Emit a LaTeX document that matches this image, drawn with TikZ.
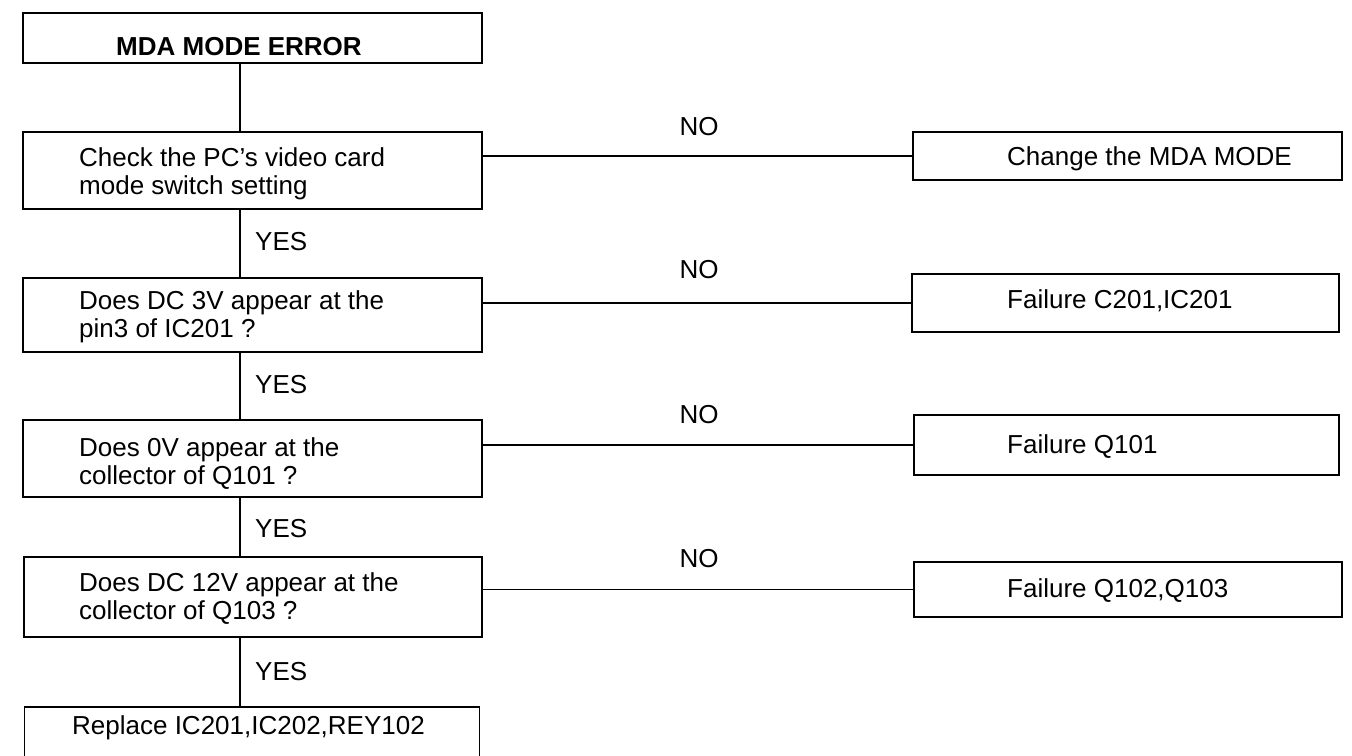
\documentclass[tikz,border=0pt]{standalone}
\usepackage{fontspec}
\setmainfont{Liberation Sans}
\begin{document}
\begin{tikzpicture}[x=1pt,y=-1pt,
  box/.style={draw, line width=1.2pt, rectangle, inner sep=0pt},
  txt/.style={inner sep=0pt, align=left, font=\fontsize{26}{28}\selectfont},
  lbl/.style={inner sep=0pt, anchor=base west, font=\fontsize{26}{28}\selectfont},
  con/.style={line width=1.2pt}]
\clip (0,0) rectangle (1352,755);
\fill[white] (0,0) rectangle (1352,755);
% left column boxes
\node[box, minimum width=459pt, minimum height=50pt] (t)  at (252.5,38)  {};
\node[box, minimum width=459pt, minimum height=77pt] (b1) at (252.5,170.5) {};
\node[box, minimum width=459pt, minimum height=74pt] (b2) at (252.5,315) {};
\node[box, minimum width=459pt, minimum height=77pt] (b3) at (252.5,458.5) {};
\node[box, minimum width=458pt, minimum height=80pt] (b4) at (253,597) {};
\node[box, minimum width=455pt, minimum height=83pt] (b5) at (252,748.5) {};
% right column boxes
\node[box, minimum width=429pt, minimum height=48pt] (r1) at (1127.5,156) {};
\node[box, minimum width=427pt, minimum height=58pt] (r2) at (1125.5,303) {};
\node[box, minimum width=425pt, minimum height=60pt] (r3) at (1126.5,445) {};
\node[box, minimum width=428pt, minimum height=55pt] (r4) at (1128,589.5) {};
% texts
\node[inner sep=0pt, anchor=base, font=\fontsize{26}{28}\selectfont\bfseries] (tt) at (239,55) {MDA MODE ERROR};
\node[txt, anchor=north west] (b1t) at (79,147) {Check the PC’s video card\\mode switch setting};
\node[txt, anchor=north west] (b2t) at (79,290) {Does DC 3V appear at the\\pin3 of IC201 ?};
\node[txt, anchor=north west] (b3t) at (79,437) {Does 0V appear at the\\collector of Q101 ?};
\node[txt, anchor=north west] (b4t) at (79,572) {Does DC 12V appear at the\\collector of Q103 ?};
\node[lbl] (b5t) at (72,734) {Replace IC201,IC202,REY102};
\node[lbl] (r1t) at (1007,165) {Change the MDA MODE};
\node[lbl] (r2t) at (1007,308) {Failure C201,IC201};
\node[lbl] (r3t) at (1007,453) {Failure Q101};
\node[lbl] (r4t) at (1007,597) {Failure Q102,Q103};
% YES / NO labels
\node[lbl] (y1) at (255,250) {YES};
\node[lbl] (y2) at (255,393) {YES};
\node[lbl] (y3) at (255,537) {YES};
\node[lbl] (y4) at (255,680) {YES};
\node[lbl, anchor=base] (n1) at (699,135) {NO};
\node[lbl, anchor=base] (n2) at (699,278) {NO};
\node[lbl, anchor=base] (n3) at (699,423) {NO};
\node[lbl, anchor=base] (n4) at (699,567) {NO};
% vertical connectors
\coordinate (v) at (240,0);
\draw[con] (t.south -| v) -- (b1.north -| v);
\draw[con] (b1.south -| v) -- (b2.north -| v);
\draw[con] (b2.south -| v) -- (b3.north -| v);
\draw[con] (b3.south -| v) -- (b4.north -| v);
\draw[con] (b4.south -| v) -- (b5.north -| v);
% horizontal connectors
\draw[con] (r1.west -| b1.east) -- (r1.west);
\draw[con] (r2.west -| b2.east) -- (r2.west);
\draw[con] (r3.west -| b3.east) -- (r3.west);
\draw[con] (r4.west -| b4.east) -- (r4.west);
\end{tikzpicture}
\end{document}
